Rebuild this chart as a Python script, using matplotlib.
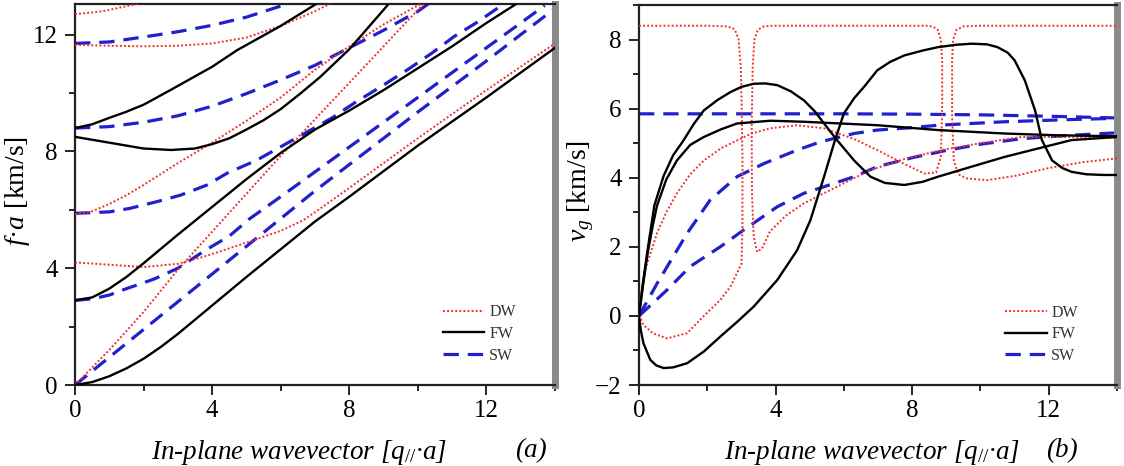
import matplotlib
matplotlib.use('Agg')
import matplotlib.pyplot as plt
from matplotlib.ticker import MultipleLocator

plt.rcParams['font.family'] = ['Liberation Serif', 'DejaVu Serif']
plt.rcParams['mathtext.fontset'] = 'custom'
plt.rcParams['mathtext.rm'] = 'Liberation Serif'
plt.rcParams['mathtext.it'] = 'Liberation Serif:italic'

# ---- panel (a): dispersion, f*a [km/s] vs q*a ----
a_dw1_x = [0, 1, 2, 3, 4, 5, 6, 7, 8, 9, 10, 10.4]
a_dw1_y = [0, 1.2, 2.5, 3.95, 5.25, 6.55, 7.85, 9.1, 10.35, 11.6, 12.85, 13.3]
a_dw2_x = [0, 1, 2, 3, 3.74, 4.5, 5.2, 6.0, 6.67, 7.16, 8, 9, 10, 11, 12, 13, 14]
a_dw2_y = [4.2, 4.12, 4.04, 4.15, 4.39, 4.68, 4.96, 5.28, 5.65, 6.05, 6.75, 7.6, 8.45, 9.28, 10.1, 10.9, 11.7]
a_dw3_x = [0, 0.5, 1, 1.5, 2, 3, 4, 5, 6, 7, 8, 9, 10, 10.2]
a_dw3_y = [5.85, 5.95, 6.2, 6.5, 6.85, 7.6, 8.3, 9.05, 9.85, 10.8, 11.6, 12.35, 13.0, 13.1]
a_dw4_x = [0, 1, 2, 3, 4, 5, 6, 7, 7.5]
a_dw4_y = [11.65, 11.62, 11.6, 11.62, 11.7, 11.9, 12.3, 12.8, 13.1]
a_dw5_x = [0, 0.8, 1.6, 2.2]
a_dw5_y = [12.7, 12.8, 13.0, 13.15]

a_fw1_x = [0, 0.5, 1, 1.5, 2, 2.5, 3, 3.74, 5, 6, 7, 8, 10, 12, 14]
a_fw1_y = [0, 0.1, 0.3, 0.57, 0.9, 1.3, 1.75, 2.47, 3.7, 4.65, 5.6, 6.45, 8.2, 9.85, 11.55]
a_fw2_x = [0, 0.5, 1, 1.5, 2, 3, 4, 5, 6, 7, 8, 9, 10, 11, 12, 13]
a_fw2_y = [2.9, 3.0, 3.3, 3.7, 4.17, 5.15, 6.1, 7.05, 7.95, 8.75, 9.4, 10.1, 10.85, 11.6, 12.4, 13.15]
a_fw3_x = [0, 1, 2, 2.8, 3.5, 4, 4.5, 5, 5.5, 6, 6.58, 7.16, 8, 9, 9.25]
a_fw3_y = [8.5, 8.3, 8.1, 8.05, 8.1, 8.25, 8.45, 8.75, 9.07, 9.45, 9.99, 10.56, 11.5, 12.85, 13.2]
a_fw4_x = [0, 0.5, 1, 1.5, 2, 2.78, 4, 4.73, 6, 7.1]
a_fw4_y = [8.8, 8.93, 9.15, 9.36, 9.6, 10.1, 10.9, 11.47, 12.3, 13.1]

a_sw1_x = [0, 1, 2, 3, 4, 5, 6, 7, 8, 9, 10, 12, 14]
a_sw1_y = [0, 0.95, 1.9, 2.85, 3.8, 4.75, 5.7, 6.65, 7.55, 8.45, 9.35, 11.1, 12.9]
a_sw2_x = [0, 0.5, 1, 1.5, 2, 2.35, 3, 3.81, 4.5, 5.1, 6, 7, 8, 9, 10, 11, 12, 13, 13.7]
a_sw2_y = [2.9, 2.95, 3.08, 3.3, 3.5, 3.65, 4.0, 4.62, 5.1, 5.7, 6.45, 7.3, 8.15, 9.0, 9.85, 10.7, 11.55, 12.4, 13.0]
a_sw3_x = [0, 1, 1.6, 2.39, 3.07, 3.85, 4.43, 5.3, 6, 6.87, 7.5, 8.2, 8.9, 9.7, 10.4, 11.05, 11.75, 12.5]
a_sw3_y = [5.88, 5.93, 6.05, 6.28, 6.5, 6.85, 7.25, 7.7, 8.16, 8.73, 9.15, 9.7, 10.2, 10.8, 11.36, 11.93, 12.44, 13.05]
a_sw4_x = [0, 1, 2, 3, 4, 5, 6, 7, 8, 9, 10, 10.3]
a_sw4_y = [8.8, 8.85, 9.0, 9.22, 9.55, 9.98, 10.45, 10.95, 11.55, 12.15, 12.8, 13.05]
a_sw5_x = [0, 1, 2, 3, 4, 5, 6, 6.2]
a_sw5_y = [11.7, 11.75, 11.92, 12.1, 12.32, 12.6, 12.98, 13.1]

# ---- panel (b): group velocity v_g [km/s] vs q*a ----
b_dw1_x = [0, 1, 2, 2.6, 2.8, 2.92, 2.98, 3.01, 3.03, 3.03, 3.0, 2.87, 2.68, 2.38, 1.9, 1.41, 0.82, 0.4, 0.13, 0]
b_dw1_y = [8.4, 8.4, 8.4, 8.38, 8.3, 8.0, 7.2, 6.0, 4.5, 2.5, 1.5, 1.24, 0.85, 0.46, 0.0, -0.5, -0.65, -0.5, -0.26, 0.05]
b_dw2_x = [0, 0.2, 0.53, 0.8, 1.11, 1.5, 1.9, 2.4, 2.87, 3.3, 3.84, 4.63, 5.42, 6.3, 6.98, 7.77, 8.36, 8.7,
           8.84, 8.88, 8.88, 8.84, 8.75, 8.6, 8.4, 7, 5, 3.9, 3.65, 3.48, 3.38, 3.33, 3.3, 3.31, 3.36,
           3.46, 3.6, 3.84, 4.3, 4.83, 5.8, 6.77, 7.8, 8.86, 10, 11.2, 12.7, 14]
b_dw2_y = [0.3, 1.4, 2.4, 3.0, 3.55, 4.1, 4.5, 4.85, 5.08, 5.28, 5.43, 5.52, 5.43, 5.12, 4.8, 4.4, 4.12, 4.15,
           4.6, 6.0, 7.4, 8.0, 8.28, 8.38, 8.4, 8.4, 8.4, 8.4, 8.38, 8.28, 8.0, 7.2, 5.5, 3.5, 2.3,
           1.85, 1.95, 2.45, 2.9, 3.26, 3.74, 4.22, 4.55, 4.8, 5.0, 5.18, 5.18, 5.15]
b_dw3_x = [14, 13, 12, 11, 10.2, 9.6, 9.35, 9.22, 9.17, 9.17, 9.2, 9.3, 9.5, 10, 12, 14]
b_dw3_y = [4.56, 4.45, 4.28, 4.05, 3.93, 3.98, 4.1, 4.5, 5.8, 7.4, 8.0, 8.28, 8.38, 8.4, 8.4, 8.4]

b_fw1_x = [0, 0.06, 0.12, 0.25, 0.45, 0.72, 1.0, 1.31, 1.6, 1.9, 2.3, 2.68, 3.0, 3.36, 3.7, 4.05, 4.45,
           4.83, 5.15, 5.42, 5.8, 6.3, 6.78, 7.2, 7.77, 8.3, 8.76, 9.74, 10.7, 11.7, 12.67, 14]
b_fw1_y = [0, 0.5, 1.0, 1.9, 3.2, 4.05, 4.65, 5.09, 5.55, 5.95, 6.25, 6.48, 6.63, 6.72, 6.73, 6.68, 6.5,
           6.24, 5.92, 5.57, 5.09, 4.5, 4.03, 3.85, 3.79, 3.88, 4.03, 4.32, 4.6, 4.85, 5.09, 5.18]
b_fw2_x = [0, 0.06, 0.12, 0.25, 0.4, 0.53, 0.8, 1.11, 1.5, 1.9, 2.4, 2.87, 3.85, 4.83, 6.98, 8.76, 10.7, 12.2, 14]
b_fw2_y = [0, 0.45, 0.9, 1.8, 2.6, 3.2, 3.95, 4.5, 4.95, 5.18, 5.4, 5.57, 5.65, 5.62, 5.52, 5.38, 5.28, 5.23, 5.2]
b_fw3_x = [0, 0.05, 0.13, 0.33, 0.5, 0.72, 1.0, 1.41, 1.9, 2.38, 2.9, 3.36, 4.05, 4.63, 5.02, 5.42, 5.71,
           6.0, 6.3, 6.59, 6.98, 7.35, 7.77, 8.3, 8.76, 9.3, 9.74, 10.2, 10.5, 10.8, 11.0, 11.3, 11.6,
           11.8, 12.1, 12.4, 12.67, 13.1, 13.6, 14]
b_fw3_y = [0, -0.4, -0.79, -1.27, -1.43, -1.51, -1.49, -1.37, -1.03, -0.6, -0.15, 0.27, 1.04, 1.9, 2.77,
           4.03, 4.99, 5.86, 6.3, 6.63, 7.11, 7.35, 7.54, 7.68, 7.78, 7.85, 7.88, 7.86, 7.78, 7.62, 7.4,
           6.82, 5.95, 5.09, 4.5, 4.28, 4.17, 4.1, 4.08, 4.08]

b_sw1_x = [0, 2, 4, 6, 8, 10, 12, 14]
b_sw1_y = [5.85, 5.85, 5.85, 5.85, 5.84, 5.82, 5.78, 5.73]
b_sw2_x = [0, 0.53, 1.41, 2.08, 2.87, 3.66, 4.63, 5.32, 6.3, 6.98, 8.0, 8.76, 10.7, 12.5, 14]
b_sw2_y = [0, 0.94, 2.39, 3.35, 4.03, 4.41, 4.8, 5.04, 5.28, 5.38, 5.45, 5.52, 5.62, 5.68, 5.72]
b_sw3_x = [0, 0.82, 1.5, 2.38, 3.07, 4.05, 4.83, 5.42, 6.3, 6.98, 8, 9.05, 10, 11.2, 12.5, 13.6, 14]
b_sw3_y = [0, 0.75, 1.43, 2.0, 2.49, 3.16, 3.55, 3.74, 4.03, 4.32, 4.58, 4.8, 4.97, 5.13, 5.22, 5.28, 5.3]

labels = ['DW', 'FW', 'SW']

dw_style = dict(color='#f03030', lw=1.4, ls=(0, (1, 1.1)))
fw_style = dict(color='black', lw=1.7, ls='-')
sw_style = dict(color='#2020cc', lw=2.3, ls=(0, (4.8, 2.8)))

fig = plt.figure(figsize=(11.24, 4.66), dpi=100)
ax1 = fig.add_axes([75/1124, 1-385/466, 480/1124, 381/466])
ax2 = fig.add_axes([639/1124, 1-385/466, 478/1124, 380/466])

panels = [
    (ax1, [(a_dw1_x, a_dw1_y), (a_dw2_x, a_dw2_y), (a_dw3_x, a_dw3_y), (a_dw4_x, a_dw4_y), (a_dw5_x, a_dw5_y)],
     [(a_fw1_x, a_fw1_y), (a_fw2_x, a_fw2_y), (a_fw3_x, a_fw3_y), (a_fw4_x, a_fw4_y)],
     [(a_sw1_x, a_sw1_y), (a_sw2_x, a_sw2_y), (a_sw3_x, a_sw3_y), (a_sw4_x, a_sw4_y), (a_sw5_x, a_sw5_y)]),
    (ax2, [(b_dw1_x, b_dw1_y), (b_dw2_x, b_dw2_y), (b_dw3_x, b_dw3_y)],
     [(b_fw1_x, b_fw1_y), (b_fw2_x, b_fw2_y), (b_fw3_x, b_fw3_y)],
     [(b_sw1_x, b_sw1_y), (b_sw2_x, b_sw2_y), (b_sw3_x, b_sw3_y)]),
]

for ax, dws, fws, sws in panels:
    for i, (x, y) in enumerate(dws):
        ax.plot(x, y, label=labels[0] if i == 0 else None, zorder=3, **dw_style)
    for i, (x, y) in enumerate(fws):
        ax.plot(x, y, label=labels[1] if i == 0 else None, zorder=4, **fw_style)
    for i, (x, y) in enumerate(sws):
        ax.plot(x, y, label=labels[2] if i == 0 else None, zorder=2, **sw_style)

    ax.set_xlim(0, 14)
    ax.xaxis.set_major_locator(MultipleLocator(4))
    ax.xaxis.set_minor_locator(MultipleLocator(2))
    ax.tick_params(which='both', direction='out', top=False, right=False, labelsize=18, width=1.2)
    ax.tick_params(which='major', length=7)
    ax.tick_params(which='minor', length=4)
    ax.tick_params(axis='x', which='major', pad=4)
    ax.tick_params(axis='y', which='major', pad=5.5)
    for s in ['left', 'bottom', 'top']:
        ax.spines[s].set_linewidth(1.6)
        ax.spines[s].set_color('#222222')
    ax.spines['right'].set_color('#8a8a8a')
    ax.spines['right'].set_linewidth(5)
    leg = ax.legend(loc='lower right', bbox_to_anchor=(0.935, 0.035), frameon=False, fontsize=11.5,
                    handlelength=2.6, handletextpad=0.3, labelspacing=0.35, borderpad=0)
    for t in leg.get_texts():
        t.set_color('#333333')

ax1.set_ylim(0, 13.05)
ax1.yaxis.set_major_locator(MultipleLocator(4))
ax1.yaxis.set_minor_locator(MultipleLocator(2))
ax2.set_ylim(-2, 9)
ax2.yaxis.set_major_locator(MultipleLocator(2))
ax2.yaxis.set_minor_locator(MultipleLocator(1))

xlab = 'In-plane wavevector [$q_{//}$·a]'
ax1.set_xlabel(xlab, fontsize=19.5, style='italic')
ax1.xaxis.set_label_coords(0.467, -0.14)
ax2.set_xlabel(xlab, fontsize=19.5, style='italic')
ax2.xaxis.set_label_coords(0.487, -0.14)
ax1.text(0.95, -0.14, '(a)', transform=ax1.transAxes, ha='center', va='top', fontsize=19.5, style='italic')
ax2.text(0.885, -0.14, '(b)', transform=ax2.transAxes, ha='center', va='top', fontsize=19.5, style='italic')

ax1.set_ylabel('$f$·$a$ [km/s]', fontsize=20)
ax1.yaxis.set_label_coords(-0.09, 0.51)
ax2.set_ylabel('$v_g$ [km/s]', fontsize=20)
ax2.yaxis.set_label_coords(-0.09, 0.51)

fig.savefig('out.png', dpi=100)
